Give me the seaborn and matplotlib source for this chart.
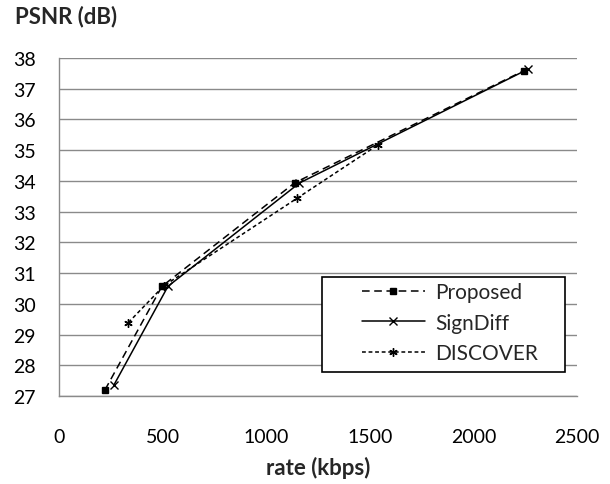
import matplotlib
matplotlib.use("Agg")
import matplotlib.pyplot as plt
from matplotlib.patches import Rectangle
import seaborn as sns

# --- Data ---
proposed_rate = [222, 497, 1138, 2242]
proposed_psnr = [27.20, 30.57, 33.94, 37.58]

signdiff_rate = [266, 526, 1160, 2262]
signdiff_psnr = [27.37, 30.57, 33.93, 37.63]

discover_rate = [335, 505, 1150, 1541]
discover_psnr = [29.39, 30.58, 33.44, 35.18]

x_ticks = [0, 500, 1000, 1500, 2000, 2500]
y_ticks = list(range(27, 39))

GRID = '#8a8a8a'

sns.set_theme(style='white')
plt.rcParams['font.family'] = ['Lato', 'DejaVu Sans']

fig = plt.figure(figsize=(6.1, 4.85), dpi=100)
ax = fig.add_axes([0.0967, 0.1814, 0.8492, 0.697])

common = dict(ax=ax, color='black', linewidth=1.1, estimator=None,
              markeredgecolor='black', markeredgewidth=1.0)

sns.lineplot(x=proposed_rate, y=proposed_psnr, label='Proposed',
             marker='s', markersize=4.5, **common)
line_p = ax.lines[-1]

sns.lineplot(x=signdiff_rate, y=signdiff_psnr, label='SignDiff',
             marker='x', markersize=5.5, **common)

sns.lineplot(x=discover_rate, y=discover_psnr, label='DISCOVER',
             marker=(6, 2, 0), markersize=6, **common)
line_d = ax.lines[-1]

line_p.set_dashes([5, 3])
line_d.set_dashes([2.5, 1.8])

ax.set_xlim(0, 2500)
ax.set_ylim(27, 38)
ax.set_xticks(x_ticks)
ax.set_yticks(y_ticks)
ax.tick_params(axis='both', labelsize=14, labelcolor='black', length=5,
               width=1, direction='out', color=GRID)
ax.tick_params(axis='x', pad=18)
ax.tick_params(axis='y', pad=12)
ax.yaxis.grid(True, color=GRID, linewidth=1.0)
ax.set_axisbelow(True)

for side in ['top', 'right']:
    ax.spines[side].set_visible(False)
for side in ['left', 'bottom']:
    ax.spines[side].set_color(GRID)
    ax.spines[side].set_linewidth(1.0)

ax.set_xlabel('rate (kbps)', fontsize=16, fontweight='bold', labelpad=8)
ax.set_ylabel('')
fig.text(0.025, 0.965, 'PSNR (dB)', fontsize=16, fontweight='bold',
         ha='left', va='center')

# legend box drawn separately to get Excel-like wide side padding
ax.add_patch(Rectangle((0.5077, 0.071), 0.469, 0.281, transform=ax.transAxes,
                       facecolor='white', edgecolor='black', linewidth=1.2,
                       zorder=5))
leg = ax.legend(loc='upper left', bbox_to_anchor=(0.585, 0.337),
                fontsize=15, frameon=False, handlelength=3.0,
                labelspacing=0.5, borderpad=0, borderaxespad=0,
                handletextpad=0.5)
leg.set_zorder(6)

fig.savefig('out.png', dpi=100)
